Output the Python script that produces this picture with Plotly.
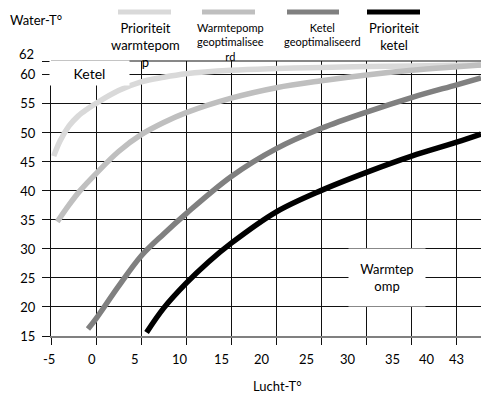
import plotly.graph_objects as go

# Air temperature (grid units) vs. water temperature for each strategy
names = ["Prioriteit warmtepomp", "Warmtepomp geoptimaliseerd",
         "Ketel geoptimaliseerd", "Prioriteit ketel"]
legend_text = ["Prioriteit<br>warmtepom<br>p", "Warmtepomp<br>geoptimalisee<br>rd",
               "Ketel<br>geoptimaliseerd", "Prioriteit<br>ketel"]

x_prio_wp = [-4.7, -4, -3, -2, -1, 0, 2.5, 5, 7.5, 10, 15, 20, 25, 30, 35, 40, 42.7]
y_prio_wp = [46, 48.6, 51.2, 52.9, 54.1, 55.1, 57.3, 58.8, 59.6, 60.2, 60.8, 61.1,
             61.3, 61.45, 61.55, 61.65, 61.7]

x_wp_opt = [-4.3, -3, -1.75, 0, 2.5, 5, 7.5, 10, 15, 20, 25, 30, 35, 40, 42.7]
y_wp_opt = [34.7, 37.6, 40.1, 43, 46.8, 49.7, 51.8, 53.5, 56, 57.8, 59, 60, 60.8, 61.4, 61.7]

x_ketel_opt = [-0.9, 0, 2.5, 5, 7.5, 10, 15, 20, 25, 30, 35, 40, 42.7]
y_ketel_opt = [16.2, 18, 23.6, 28.8, 32.6, 36.1, 42.5, 47.3, 50.8, 53.6, 56.1, 58.3, 59.5]

x_prio_ketel = [5.6, 7.5, 10, 12.5, 15, 20, 25, 30, 35, 40, 42.7]
y_prio_ketel = [15.6, 19.8, 24.1, 27.8, 31, 36.4, 40.1, 43.2, 46, 48.4, 49.8]

x_tick_text = ["-5", "0", "5", "10", "15", "20", "25", "30", "35", "40", "43"]
x_tick_pos = [-5.2, -0.5, 4.35, 9.33, 13.96, 18.39, 23.37, 27.99, 32.9, 36.68, 40.0]
y_ticks = [15, 20, 25, 30, 35, 40, 45, 50, 55, 60]

colors = ["#d9d9d9", "#bfbfbf", "#808080", "#000000"]
FONT = "Lato"
X_RANGE = [-5, 42.7]
Y_RANGE = [15, 62.4]

# plot area in pixels
L, T, W, H = 51, 61, 430, 275


def px(p):
    return (p - L) / W


def py(p):
    return 1 - (p - T) / H


def dx(v):
    return (v - X_RANGE[0]) / (X_RANGE[1] - X_RANGE[0])


fig = go.Figure()
series = [(x_prio_wp, y_prio_wp), (x_wp_opt, y_wp_opt),
          (x_ketel_opt, y_ketel_opt), (x_prio_ketel, y_prio_ketel)]
for (xs, ys), name, c in zip(series, names, colors):
    fig.add_trace(go.Scatter(x=xs, y=ys, mode="lines", name=name,
                             line=dict(color=c, width=5.5, shape="spline"),
                             showlegend=False))

annotations = []
shapes = []

# top border of the plot area
shapes.append(dict(type="line", xref="paper", yref="paper", x0=0, x1=1, y0=1, y1=1,
                   line=dict(color="#111111", width=1), layer="below"))

# hand-made legend: line sample above wrapped text
leg_lines = [(118, 171), (202, 255), (287, 339), (367, 420)]
leg_cx = [145, 230, 322, 394]
leg_cy = [45, 42, 34, 36.5]
leg_size = [13, 11, 11, 13]
for (a, b), cx, cy, fs, txt, c in zip(leg_lines, leg_cx, leg_cy, leg_size, legend_text, colors):
    shapes.append(dict(type="line", xref="paper", yref="paper",
                       x0=px(a), x1=px(b), y0=py(12), y1=py(12),
                       line=dict(color=c, width=5)))
    annotations.append(dict(text=txt, xref="paper", yref="paper", x=px(cx), y=py(cy),
                            xanchor="center", yanchor="middle", showarrow=False,
                            font=dict(size=fs, color="black")))

# x tick labels (offset from the grid, as in the original)
for t, pos in zip(x_tick_text, x_tick_pos):
    annotations.append(dict(text=t, x=dx(pos), y=py(359), xref="paper", yref="paper",
                            showarrow=False, xanchor="center", yanchor="middle",
                            font=dict(size=13, color="black")))

annotations += [
    dict(text="62", xref="paper", yref="paper", x=px(36), y=py(54), xanchor="right",
         yanchor="middle", showarrow=False, font=dict(size=13, color="black")),
    dict(text="Water-T°", xref="paper", yref="paper", x=px(36), y=py(20),
         xanchor="center", yanchor="middle", showarrow=False, font=dict(size=13, color="black")),
    dict(text="Lucht-T°", xref="paper", yref="paper", x=px(277), y=py(386),
         xanchor="center", yanchor="middle", showarrow=False, font=dict(size=13, color="black")),
    dict(text="Ketel", xref="paper", yref="paper", x=px(89.5), y=py(73),
         xanchor="center", yanchor="middle", showarrow=False, bgcolor="white",
         width=77, height=22, font=dict(size=14, color="black")),
    dict(text="Warmtep<br>omp", xref="paper", yref="paper", x=px(387), y=py(277.5),
         xanchor="center", yanchor="middle", showarrow=False, bgcolor="white",
         width=74, height=55, font=dict(size=13, color="black")),
]

fig.update_layout(
    width=481, height=395,
    margin=dict(l=L, r=481 - L - W, t=T, b=395 - T - H),
    plot_bgcolor="white", paper_bgcolor="white",
    font=dict(family=FONT, size=13, color="black"),
    annotations=annotations, shapes=shapes,
)
fig.update_xaxes(range=X_RANGE, tickvals=list(range(-5, 41, 5)), showticklabels=False,
                 showgrid=True, gridcolor="#111111", gridwidth=1, zeroline=False,
                 ticks="outside", ticklen=7, tickcolor="#111111",
                 showline=True, linecolor="#808080", linewidth=2)
fig.update_yaxes(range=Y_RANGE, tickvals=y_ticks + [62.4],
                 ticktext=[str(v) for v in y_ticks] + [""],
                 showgrid=True, gridcolor="#111111", gridwidth=1, zeroline=False,
                 ticks="outside", ticklen=8, tickcolor="#111111", ticklabelstandoff=4,
                 showline=True, linecolor="#111111", linewidth=1,
                 tickfont=dict(size=13))

fig.write_html("out.html", config={"displayModeBar": False},
               post_script="document.body.style.margin='0';")
